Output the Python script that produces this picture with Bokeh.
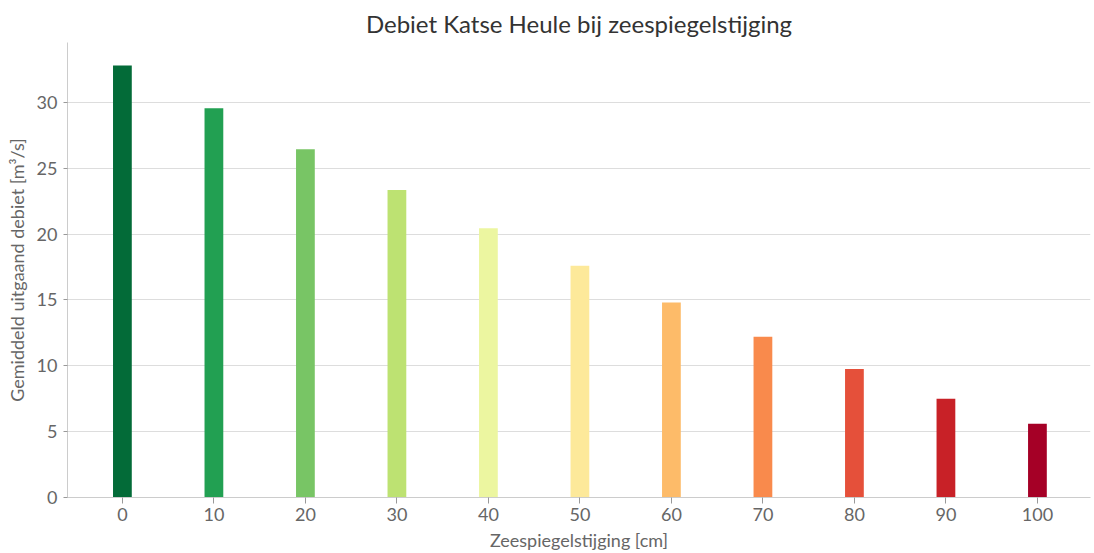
from bokeh.plotting import figure
from bokeh.models import ColumnDataSource, Range1d, FixedTicker
from bokeh.embed import file_html
from bokeh.resources import INLINE

title_text = "Debiet Katse Heule bij zeespiegelstijging"
rise_cm = [0, 10, 20, 30, 40, 50, 60, 70, 80, 90, 100]
debiet = [32.8, 29.55, 26.45, 23.35, 20.45, 17.6, 14.8, 12.2, 9.75, 7.5, 5.6]
colors = ["#036b38", "#22a052", "#78c565", "#bde272", "#ecf6a0", "#fde99a",
          "#fdbb69", "#f98a4c", "#e5503a", "#c82127", "#a50026"]
x_ticks = [0, 10, 20, 30, 40, 50, 60, 70, 80, 90, 100]
y_ticks = [0, 5, 10, 15, 20, 25, 30]

src = ColumnDataSource(dict(x=rise_cm, y=debiet, c=colors))

p = figure(width=1094, height=553, output_backend="svg", toolbar_location=None,
           x_range=Range1d(-6.0, 105.8), y_range=Range1d(0, 34.55),
           title=title_text,
           min_border_left=67, min_border_right=4, min_border_top=42, min_border_bottom=56)

p.vbar(x="x", top="y", width=2.05, bottom=0, fill_color="c", line_color=None, source=src)

p.title.align = "center"
p.title.text_font = "Lato"
p.title.text_font_size = "24px"
p.title.text_font_style = "normal"
p.title.text_color = "#333333"

p.xaxis.ticker = FixedTicker(ticks=x_ticks)
p.yaxis.ticker = FixedTicker(ticks=y_ticks)
p.xaxis.axis_label = "Zeespiegelstijging [cm]"
p.yaxis.axis_label = "Gemiddeld uitgaand debiet [m³/s]"

for ax in (p.xaxis, p.yaxis):
    ax.axis_label_text_font = "Lato"
    ax.axis_label_text_font_size = "18px"
    ax.axis_label_text_font_style = "normal"
    ax.axis_label_text_color = "#666666"
    ax.major_label_text_font = "Lato"
    ax.major_label_text_font_size = "18px"
    ax.major_label_text_color = "#666666"
    ax.axis_line_color = "#cccccc"
    ax.major_tick_line_color = "#999999"
    ax.minor_tick_line_color = None
    ax.major_tick_in = 0

p.xaxis.major_tick_out = 6
p.yaxis.major_tick_out = 4
p.xaxis.major_label_standoff = 4
p.yaxis.major_label_standoff = 6
p.xaxis.axis_label_standoff = 5
p.yaxis.axis_label_standoff = 6
p.xgrid.grid_line_color = None
p.ygrid.grid_line_color = "#dddddd"
p.outline_line_color = None

open("out.html", "w").write(file_html(p, INLINE))
